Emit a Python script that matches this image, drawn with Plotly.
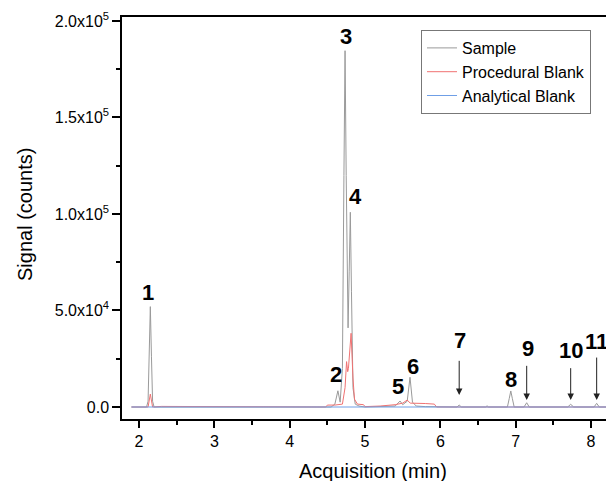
import plotly.graph_objects as go

# ---------------- data ----------------
sample_time = [1.90, 2.10, 2.12, 2.135, 2.15, 2.165, 2.18, 2.20,
               4.55, 4.60, 4.64, 4.67, 4.70, 4.72, 4.735, 4.75, 4.775, 4.79, 4.805, 4.82, 4.84, 4.87, 4.92, 5.00,
               5.40, 5.465, 5.50, 5.56, 5.597, 5.63, 5.68, 5.80, 6.10,
               6.22, 6.25, 6.28, 6.60, 6.62, 6.64,
               6.89, 6.915, 6.935, 6.955, 6.98,
               7.11, 7.146, 7.18, 7.69, 7.73, 7.77, 8.04, 8.075, 8.11, 8.31]
sample_signal = [0, 0, 3000, 26000, 52000, 26000, 3000, 0,
                 0, 1500, 8400, 2500, 20000, 120000, 184600, 120000, 41000, 70000, 100900, 60000, 10000, 1500, 500, 0,
                 500, 3100, 1200, 3000, 15400, 2500, 500, 200, 0,
                 0, 1000, 0, 0, 600, 0,
                 0, 4500, 8300, 4500, 0,
                 0, 2200, 0, 0, 1400, 0, 0, 1900, 0, 0]

proc_time = [1.90, 2.12, 2.15, 2.18, 2.30, 3.00, 4.48, 4.50, 4.60, 4.70, 4.735, 4.755, 4.77, 4.78,
             4.815, 4.84, 4.86, 4.90, 4.98, 5.00, 5.20, 5.40, 5.50, 5.56, 5.60, 5.80, 5.92, 5.95, 8.31]
proc_signal = [0, 0, 6700, 0, 300, 200, 0, 1000, 1000, 1500, 10000, 23500, 18300, 20000,
               38200, 15000, 4000, 1500, 1200, 200, 500, 1200, 2000, 3600, 2000, 1800, 1500, 0, 0]

anal_time = [1.90, 3.00, 4.00, 5.00, 6.00, 7.00, 8.00, 8.31]
anal_signal = [0, 0, 0, 0, 0, 0, 0, 0]

series_names = ["Sample", "Procedural Blank", "Analytical Blank"]

peak_labels = ["1", "2", "3", "4", "5", "6", "7", "8", "9", "10", "11"]
arrow_labels = ["7", "9", "10", "11"]

y_tick_values = [0, 50000, 100000, 150000, 200000]
y_tick_text = ["0.0", "5.0x10<sup>4</sup>", "1.0x10<sup>5</sup>", "1.5x10<sup>5</sup>", "2.0x10<sup>5</sup>"]
x_tick_values = [2, 3, 4, 5, 6, 7, 8]

# ---------------- layout positions (data coordinates) ----------------
label_pos = {
    "1": (2.125, 59200), "2": (4.615, 17100), "3": (4.744, 192200), "4": (4.867, 109000),
    "5": (5.442, 10500), "6": (5.641, 20900), "7": (6.261, 34400), "8": (6.938, 14000),
    "9": (7.168, 30400), "10": (7.731, 29500), "11": (8.076, 33800),
}
arrow_pos = {  # (x, tip_y, tail_y)
    "7": (6.25, 6200, 24700), "9": (7.146, 3600, 22100),
    "10": (7.73, 3600, 20900), "11": (8.075, 3600, 26400),
}

FONT = "Liberation Sans, Arial, sans-serif"

# page body adds an 8px offset; layout is computed in figure pixels
OFF = 8
W, H = 614, 481
ML, MT = 122 - OFF, 17 - OFF
MR = OFF
MB = H - (419 - OFF)
pw, ph = W - ML - MR, H - MT - MB


def px_to_paper(sx, sy):
    fx, fy = sx - OFF, sy - OFF
    return (fx - ML) / pw, (H - MB - fy) / ph


fig = go.Figure()
fig.add_trace(go.Scatter(x=sample_time, y=sample_signal, mode="lines", name=series_names[0],
                         line=dict(color="#9a9a9a", width=1)))
fig.add_trace(go.Scatter(x=proc_time, y=proc_signal, mode="lines", name=series_names[1],
                         line=dict(color="#f07272", width=1)))
fig.add_trace(go.Scatter(x=anal_time, y=anal_signal, mode="lines", name=series_names[2],
                         line=dict(color="#6f9fe6", width=1)))

annotations = []
for lab in peak_labels:
    x, y = label_pos[lab]
    annotations.append(dict(x=x, y=y, xref="x", yref="y", text="<b>%s</b>" % lab, showarrow=False,
                            font=dict(family=FONT, size=22, color="black"),
                            xanchor="center", yanchor="middle"))
for lab in arrow_labels:
    x, tip, tail = arrow_pos[lab]
    annotations.append(dict(x=x, y=tip, ax=x, ay=tail, xref="x", yref="y", axref="x", ayref="y",
                            text="", showarrow=True, arrowhead=2, arrowsize=1.3, arrowwidth=1,
                            arrowcolor="#222222"))

tx, ty = px_to_paper(373, 471)
annotations.append(dict(x=tx, y=ty, xref="paper", yref="paper", text="Acquisition (min)", showarrow=False,
                        xanchor="center", yanchor="middle", font=dict(family=FONT, size=20, color="black")))
tx, ty = px_to_paper(25, 215)
annotations.append(dict(x=tx, y=ty, xref="paper", yref="paper", text="Signal (counts)", showarrow=False,
                        xanchor="center", yanchor="middle", textangle=-90,
                        font=dict(family=FONT, size=20, color="black")))

lx, ly = px_to_paper(421, 30)
fig.update_layout(
    width=W, height=H,
    margin=dict(l=ML, r=MR, t=MT, b=MB, autoexpand=False),
    paper_bgcolor="white", plot_bgcolor="white",
    font=dict(family=FONT, size=16, color="black"),
    showlegend=True,
    legend=dict(x=lx, y=ly, xanchor="left", yanchor="top",
                bgcolor="white", bordercolor="#777777", borderwidth=1,
                font=dict(family=FONT, size=16, color="black"),
                tracegroupgap=0, itemwidth=30),
    annotations=annotations,
)
fig.update_xaxes(range=[1.774, 8.305], tickvals=x_tick_values, ticks="outside", ticklen=7, tickwidth=1.5,
                 tickcolor="black", showline=True, linecolor="black", linewidth=1.5, mirror=True,
                 showgrid=False, zeroline=False, automargin=False,
                 minor=dict(dtick=0.5, ticks="outside", ticklen=4, tickwidth=1.5, tickcolor="black", showgrid=False),
                 tickfont=dict(family=FONT, size=16))
fig.update_yaxes(range=[-6217, 202060], tickvals=y_tick_values, ticktext=y_tick_text, ticks="outside",
                 ticklen=8, tickwidth=1.5, tickcolor="black", showline=True, linecolor="black", linewidth=1.5,
                 showgrid=False, zeroline=False, automargin=False,
                 minor=dict(tick0=0, dtick=25000, ticks="outside", ticklen=4, tickwidth=1.5, tickcolor="black",
                            showgrid=False),
                 tickfont=dict(family=FONT, size=16))

fig.write_html("out.html")
